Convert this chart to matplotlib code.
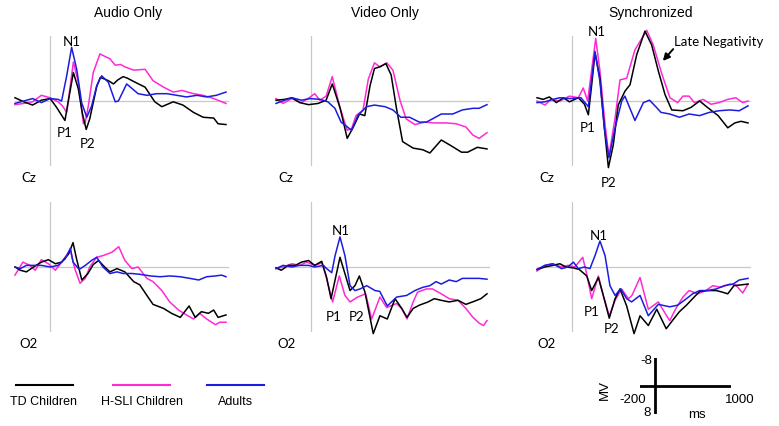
import matplotlib.pyplot as plt
from matplotlib.lines import Line2D

# ERP waveforms, time in ms, amplitude in microvolts (negative plotted up)
# ---- Audio Only, Cz
aud_cz_td_t = [-200, -150, -100, -50, 0, 37, 84, 109, 132, 160, 183, 205, 225, 245, 265, 285, 310, 331, 360, 385, 415, 440, 475, 540, 595, 635, 700, 755, 815, 870, 930, 955, 1000]
aud_cz_td_v = [-0.4, 0.1, 0.5, -0.1, -0.3, 0.8, 2.4, -0.7, -3.5, -1.5, 1.5, 3.5, 2.2, 0.2, -1.8, -2.9, -2.7, -2.5, -2.1, -2.6, -3.0, -2.8, -2.4, -1.7, 0.1, 0.7, 0.1, 0.5, 1.4, 2.0, 2.1, 2.8, 2.9]
aud_cz_sli_t = [-200, -150, -100, -50, 0, 45, 70, 94, 112, 132, 160, 189, 200, 217, 245, 283, 310, 340, 370, 400, 425, 475, 540, 585, 645, 700, 750, 815, 870, 930, 1000]
aud_cz_sli_v = [0.45, 0.3, 0.1, -0.7, -0.4, 0.1, 0.6, 1.4, -1.5, -4.8, -2.3, 2.8, 2.6, 0.6, -3.5, -5.8, -5.5, -5.2, -4.4, -4.5, -4.2, -3.8, -3.9, -2.5, -1.7, -1.1, -1.3, -0.9, -0.7, -0.3, 0.3]
aud_cz_ad_t = [-200, -150, -100, -50, 0, 45, 65, 94, 122, 151, 179, 208, 236, 265, 293, 331, 370, 388, 435, 500, 550, 605, 665, 720, 775, 835, 890, 945, 1000]
aud_cz_ad_v = [0.3, 0.0, -0.3, 0.2, -0.3, -0.2, 0.0, -3.1, -6.6, -3.9, 0.2, 2.0, 0.6, -1.9, -3.1, -2.3, 0.1, 0.0, -2.1, -0.9, -0.7, -0.9, -0.9, -0.7, -0.5, -0.7, -0.5, -0.7, -1.1]

# ---- Video Only, Cz
vid_cz_td_t = [-200, -150, -110, -65, -15, 40, 85, 120, 165, 205, 240, 275, 305, 335, 360, 390, 425, 455, 485, 520, 580, 635, 675, 740, 795, 855, 890, 945, 1000]
vid_cz_td_v = [-0.1, -0.2, -0.4, 0.2, 0.45, 0.3, -0.1, -2.1, 0.9, 4.6, 3.2, 1.6, 1.8, -1.9, -4.0, -4.2, -4.6, -3.2, 0.9, 5.0, 5.8, 6.0, 6.4, 4.8, 5.5, 6.3, 6.3, 5.7, 5.9]
vid_cz_sli_t = [-200, -160, -110, -55, -5, 20, 50, 85, 120, 165, 205, 230, 255, 295, 325, 360, 390, 430, 465, 505, 540, 590, 645, 700, 770, 825, 880, 920, 955, 1000]
vid_cz_sli_v = [-0.3, 0.3, -0.3, 0.2, -0.5, -0.9, -0.1, -0.6, -3.0, 0.9, 3.6, 3.4, 1.8, 1.1, -2.7, -4.7, -4.2, -4.7, -3.8, -0.1, 2.2, 2.9, 2.6, 2.7, 2.7, 2.8, 3.2, 4.2, 4.6, 3.9]
vid_cz_ad_t = [-200, -150, -110, -55, -5, 50, 95, 135, 170, 230, 265, 315, 360, 420, 465, 510, 560, 615, 655, 690, 740, 805, 860, 920, 955, 1000]
vid_cz_ad_v = [0.3, -0.1, -0.4, -0.1, -0.3, -0.2, 0.1, 0.9, 2.6, 3.6, 1.8, 0.7, 0.5, 0.7, 1.1, 2.0, 2.0, 2.6, 2.6, 2.2, 1.6, 1.6, 1.1, 0.9, 0.9, 0.45]

# ---- Synchronized, Cz
syn_cz_td_t = [-200, -165, -130, -90, -50, -15, 35, 70, 92, 111, 130, 158, 183, 206, 234, 262, 300, 329, 367, 414, 452, 490, 528, 566, 630, 675, 725, 770, 830, 885, 925, 960, 1000]
syn_cz_td_v = [-0.4, -0.2, -0.5, 0.2, -0.4, 0.1, -0.4, 0.4, 1.7, -2.0, -5.9, -2.8, 3.3, 8.2, 5.4, 0.5, -1.2, -2.0, -5.7, -8.6, -6.9, -3.7, -0.8, 1.1, 1.2, 0.8, 0.0, 0.8, 1.8, 3.3, 2.7, 2.5, 2.7]
syn_cz_sli_t = [-200, -155, -120, -70, -15, 35, 63, 88, 134, 158, 187, 209, 244, 272, 310, 357, 424, 461, 509, 556, 600, 630, 665, 695, 745, 790, 835, 885, 930, 970, 1000]
syn_cz_sli_v = [0.0, 0.5, -0.2, 0.0, -0.6, -0.4, -1.6, 0.0, -7.7, -3.7, 2.9, 6.8, 2.1, -2.6, -2.8, -6.3, -8.7, -6.9, -3.4, -0.4, 0.2, -0.6, -0.6, 0.2, -0.2, 0.4, 0.2, -0.2, -0.4, 0.2, 0.0]
syn_cz_ad_t = [-200, -155, -110, -70, -15, 50, 92, 130, 158, 183, 209, 244, 282, 300, 357, 405, 440, 480, 505, 555, 610, 665, 725, 780, 835, 895, 950, 1000]
syn_cz_ad_v = [0.2, 0.1, -0.2, -0.4, -0.3, -0.4, 0.7, -6.1, -2.4, 3.3, 7.0, 3.3, 0.0, -0.6, 2.4, 0.2, -0.1, 0.8, 1.4, 1.6, 2.0, 1.6, 1.8, 1.4, 1.2, 1.1, 1.2, 0.6]

# ---- Audio Only, O2
aud_o2_td_t = [-200, -170, -135, -95, -50, -10, 30, 65, 105, 130, 150, 180, 215, 245, 275, 310, 340, 380, 425, 475, 510, 550, 585, 645, 690, 740, 765, 790, 825, 860, 900, 930, 955, 1000]
aud_o2_td_v = [0.0, 0.4, 0.6, 0.0, -0.6, -0.9, -0.4, -0.6, -1.6, -3.0, -1.0, 1.6, 0.8, -0.3, -0.8, 0.0, 0.6, 0.2, 0.6, 1.8, 2.2, 3.5, 4.6, 5.1, 5.7, 6.2, 5.5, 4.8, 6.2, 5.5, 5.7, 5.3, 6.2, 5.9]
aud_o2_sli_t = [-200, -155, -115, -85, -50, -10, 30, 65, 115, 140, 170, 200, 225, 265, 300, 350, 390, 425, 465, 500, 550, 585, 635, 680, 730, 775, 815, 850, 890, 940, 965, 1000]
aud_o2_sli_v = [1.0, -0.6, -0.2, 0.4, -0.9, -0.4, 0.4, -0.6, -2.1, 0.2, 2.0, 1.4, 0.0, -1.2, -1.4, -1.8, -2.5, -0.8, 0.2, 0.0, 1.4, 1.8, 2.9, 4.3, 5.3, 5.9, 6.4, 5.7, 6.4, 7.1, 6.8, 6.8]
aud_o2_ad_t = [-200, -170, -135, -95, -50, 0, 45, 85, 115, 130, 165, 200, 235, 265, 300, 340, 380, 415, 465, 510, 570, 625, 680, 740, 795, 845, 890, 940, 975, 1000]
aud_o2_ad_v = [0.0, 0.2, -0.2, -0.2, -0.2, 0.0, -0.2, -1.0, -2.3, -0.6, 0.3, -0.2, -0.8, -1.2, 0.0, 0.8, 0.6, 0.8, 0.8, 0.9, 1.1, 1.2, 1.1, 1.2, 1.4, 1.6, 1.2, 1.1, 1.0, 1.2]

# ---- Video Only, O2
vid_o2_td_t = [-200, -170, -130, -90, -55, -15, 20, 60, 88, 113, 164, 221, 249, 274, 306, 353, 391, 433, 477, 515, 545, 580, 615, 665, 700, 740, 785, 835, 880, 930, 965, 1000]
vid_o2_td_v = [0.1, 0.4, -0.2, -0.2, -0.6, -0.8, -0.2, -0.7, 1.3, 3.9, -1.2, 2.9, 2.3, 1.1, 3.1, 8.2, 6.0, 6.4, 3.9, 5.1, 6.2, 5.1, 4.7, 4.3, 3.9, 4.1, 4.3, 4.1, 4.6, 4.2, 3.9, 3.3]
vid_o2_sli_t = [-200, -160, -110, -65, -25, 20, 60, 79, 122, 160, 192, 221, 264, 310, 344, 391, 429, 485, 515, 545, 580, 605, 655, 690, 740, 785, 835, 880, 920, 955, 980, 1000]
vid_o2_sli_v = [0.2, 0.0, -0.4, -0.2, -0.6, -0.2, -0.5, 0.7, 4.3, 1.1, 3.5, 4.3, 3.7, 3.3, 6.4, 3.7, 5.0, 4.5, 5.1, 6.4, 4.3, 3.1, 2.7, 2.7, 3.3, 3.9, 4.1, 5.1, 6.2, 6.9, 7.2, 6.6]
vid_o2_ad_t = [-200, -160, -110, -65, -15, 20, 70, 88, 117, 136, 164, 192, 221, 249, 278, 316, 363, 390, 433, 486, 543, 590, 635, 675, 710, 740, 785, 825, 860, 920, 955, 1000]
vid_o2_ad_v = [0.2, -0.2, 0.0, -0.2, -0.2, 0.0, -0.2, 0.2, 0.7, -1.4, -3.7, -1.4, 2.3, 2.9, 2.7, 2.3, 2.9, 3.0, 4.8, 3.7, 3.5, 2.9, 2.5, 2.3, 1.8, 2.1, 1.6, 1.8, 1.4, 1.4, 1.4, 1.5]

# ---- Synchronized, O2
syn_o2_td_t = [-200, -155, -110, -70, -35, 5, 40, 83, 111, 149, 177, 211, 244, 272, 310, 352, 386, 433, 481, 535, 570, 610, 650, 685, 725, 770, 820, 855, 885, 920, 960, 1000]
syn_o2_td_v = [0.3, 0.0, -0.2, -0.4, 0.0, 0.1, 0.3, 1.1, 2.9, 1.3, 3.5, 6.3, 3.9, 2.7, 4.8, 8.2, 6.0, 7.2, 5.2, 7.6, 6.6, 5.5, 4.7, 3.9, 3.0, 2.9, 2.9, 3.1, 3.3, 2.3, 2.2, 2.1]
syn_o2_sli_t = [-200, -155, -110, -60, -25, 15, 60, 80, 111, 149, 177, 211, 244, 281, 320, 340, 386, 433, 490, 537, 555, 590, 630, 665, 715, 760, 800, 845, 895, 930, 970, 1000]
syn_o2_sli_v = [0.5, -0.2, -0.4, 0.0, -0.2, 0.0, -1.2, 0.6, 3.9, 1.1, 3.5, 6.0, 4.1, 2.7, 3.9, 3.5, 1.3, 5.2, 4.3, 6.0, 6.6, 5.1, 3.7, 2.9, 3.3, 2.9, 2.3, 2.5, 2.1, 2.2, 3.2, 2.1]
syn_o2_ad_t = [-200, -155, -110, -60, -25, 7, 35, 70, 101, 130, 158, 187, 215, 244, 276, 310, 338, 386, 433, 490, 555, 600, 650, 685, 725, 770, 820, 865, 915, 950, 1000]
syn_o2_ad_v = [0.3, -0.2, -0.4, 0.2, 0.0, -0.6, 0.2, 0.0, 0.2, -1.4, -3.2, -1.4, 2.3, 3.5, 2.7, 3.9, 4.3, 3.5, 6.0, 4.6, 4.9, 4.7, 3.9, 3.3, 2.9, 2.9, 2.7, 2.3, 2.1, 1.6, 1.4]

groups = ['TD Children', 'H-SLI Children', 'Adults']
colors = ['black', '#ff2ad4', '#1c1ce0']
titles = ['Audio Only', 'Video Only', 'Synchronized']
sites = ['Cz', 'O2']

traces = [
    [[(aud_cz_td_t, aud_cz_td_v), (aud_cz_sli_t, aud_cz_sli_v), (aud_cz_ad_t, aud_cz_ad_v)],
     [(vid_cz_td_t, vid_cz_td_v), (vid_cz_sli_t, vid_cz_sli_v), (vid_cz_ad_t, vid_cz_ad_v)],
     [(syn_cz_td_t, syn_cz_td_v), (syn_cz_sli_t, syn_cz_sli_v), (syn_cz_ad_t, syn_cz_ad_v)]],
    [[(aud_o2_td_t, aud_o2_td_v), (aud_o2_sli_t, aud_o2_sli_v), (aud_o2_ad_t, aud_o2_ad_v)],
     [(vid_o2_td_t, vid_o2_td_v), (vid_o2_sli_t, vid_o2_sli_v), (vid_o2_ad_t, vid_o2_ad_v)],
     [(syn_o2_td_t, syn_o2_td_v), (syn_o2_sli_t, syn_o2_sli_v), (syn_o2_ad_t, syn_o2_ad_v)]],
]

W, H = 779, 427
fig = plt.figure(figsize=(W / 100, H / 100), dpi=100)

def px(x, y):
    return x / W, 1 - y / H

col_x = [15, 276, 537]
row_top = [37, 203]
lab_font = 'Lato'
txt_font = 'Liberation Sans'

for r in range(2):
    for c in range(3):
        x0, y1 = px(col_x[c], row_top[r] + 130)
        ax = fig.add_axes([x0, y1, 211 / W, 130 / H])
        ax.set_xlim(-200, 1000)
        ax.set_ylim(8, -8)
        ax.axis('off')
        ax.axvline(0, color='#c8c8c8', lw=0.9, zorder=0)
        ax.plot([-200, 1010], [0, 0], color='#c8c8c8', lw=0.9, zorder=0, clip_on=False)
        for g in [1, 0, 2]:
            t, v = traces[r][c][g]
            ax.plot(t, v, color=colors[g], lw=1.1, clip_on=False, solid_joinstyle='round')
        tx, ty = px(col_x[c] + 14 if c == 0 else col_x[c] + 10, 178 if r == 0 else 344)
        fig.text(tx, ty, sites[r], fontsize=9.5, family=lab_font, ha='center', va='center')

for c in range(3):
    cx = [128, 385, 651][c]
    fig.text(*px(cx, 13), titles[c], fontsize=10, family=txt_font, ha='center', va='center')

labels = [('N1', 72, 42), ('P1', 65, 133), ('P2', 88, 144),
          ('N1', 597, 32), ('P1', 588, 128), ('P2', 609, 183),
          ('N1', 341, 231), ('P1', 334, 317), ('P2', 357, 317),
          ('N1', 599, 236), ('P1', 592, 312), ('P2', 612, 329)]
for s, x, y in labels:
    fig.text(*px(x, y), s, fontsize=9.5, family=lab_font, ha='center', va='center')

fig.text(*px(674, 42), 'Late Negativity', fontsize=9.5, family=lab_font, ha='left', va='center')
fig.add_artist(plt.Annotation('', xy=px(661, 64), xytext=px(675, 48),
                              xycoords='figure fraction', textcoords='figure fraction',
                              arrowprops=dict(arrowstyle='-|>', color='black', lw=1.4,
                                              mutation_scale=10)))

# legend
leg_x = [(16, 73), (113, 170), (207, 264)]
leg_lab = [44, 142, 236]
for g in range(3):
    a, b = leg_x[g]
    (xa, ya), (xb, yb) = px(a, 386), px(b, 386)
    fig.add_artist(Line2D([xa, xb], [ya, yb], color=colors[g], lw=1.5, transform=fig.transFigure))
    fig.text(*px(leg_lab[g], 402), groups[g], fontsize=9, family=txt_font, ha='center', va='center')

# scale bar
sb = fig.add_axes([640 / W, 1 - 415 / H, 91 / W, 56 / H])
sb.set_xlim(-200, 1000)
sb.set_ylim(8, -8)
sb.axis('off')
sb.plot([-200, 1000], [0, 0], color='black', lw=2)
sb.plot([0, 0], [-8, 8], color='black', lw=2)
sb.text(-40, -7.3, '-8', fontsize=9.5, family=txt_font, ha='right', va='center')
sb.text(-292, 3.7, '-200', fontsize=9.5, family=txt_font, ha='center', va='center')
sb.text(-110, 7.4, '8', fontsize=9.5, family=txt_font, ha='center', va='center')
sb.text(1120, 3.7, '1000', fontsize=9.5, family=txt_font, ha='center', va='center')
sb.text(552, 8.0, 'ms', fontsize=9.5, family=txt_font, ha='center', va='center')
sb.text(-660, 0.8, 'MV', fontsize=9.5, family=txt_font, ha='center', va='center', rotation=90)

fig.savefig('out.png', dpi=100)
